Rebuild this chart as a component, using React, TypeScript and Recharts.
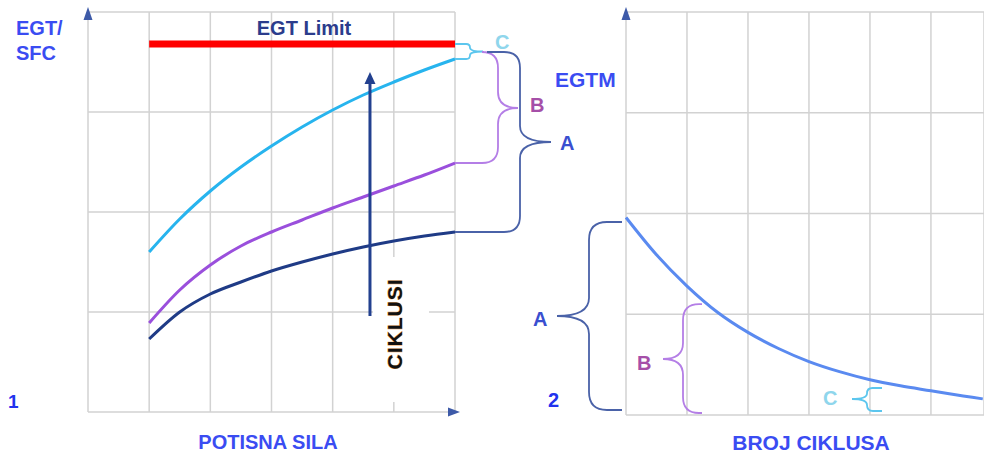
import { LineChart, Line, XAxis, YAxis, CartesianGrid, ReferenceLine } from 'recharts';

// left panel: EGT/SFC vs thrust, x in grid units
const thrust = [1, 1.5, 2, 2.5, 3, 3.5, 4, 4.5, 5, 5.5, 6];
const egtLimit = [3.68, 3.68, 3.68, 3.68, 3.68, 3.68, 3.68, 3.68, 3.68, 3.68, 3.68];
const newEngine = [0.73, 1.0, 1.18, 1.3, 1.41, 1.5, 1.58, 1.65, 1.71, 1.76, 1.8];
const midLife = [0.89, 1.22, 1.47, 1.66, 1.8, 1.92, 2.04, 2.15, 2.26, 2.37, 2.49];
const oldEngine = [1.6, 1.93, 2.21, 2.45, 2.66, 2.85, 3.02, 3.17, 3.3, 3.42, 3.53];

// right panel: EGT margin vs cycles
const cycles = [0, 0.5, 1, 1.5, 2, 2.5, 3, 3.5, 4, 4.5, 5, 5.3, 5.85];
const egtm = [1.96, 1.59, 1.28, 1.02, 0.82, 0.66, 0.53, 0.43, 0.35, 0.29, 0.24, 0.21, 0.16];

const leftTicksX = [0, 1, 2, 3, 4, 5, 6];
const rightTicksX = [0, 1, 2, 3, 4, 5];
const ticksY = [0, 1, 2, 3, 4];

const leftData = thrust.map((x, i) => ({
  x,
  limit: egtLimit[i],
  a: newEngine[i],
  b: midLife[i],
  c: oldEngine[i],
}));
const rightData = cycles.map((x, i) => ({ x, egtm: egtm[i] }));

const FONT = '"Liberation Sans", Arial, sans-serif';
const AXIS = '#3d5aa8';
const GRID = '#d2d2d2';
const LABEL = '#3a4cf2';
const hiddenTick = { fill: 'transparent', fontSize: 1 };

// pixel helpers matching the chart margins below (annotations only)
const lx = (v: number) => 88 + (v / 6) * 367;
const ly = (v: number) => 12 + (1 - v / 4) * 400;
const ry = (v: number) => 12 + (1 - v / 4) * 403;

// curly brace: ends at (x0a,y1) and (x0b,y2), spine at xs, tip at (xt,yt)
function brace(x0a: number, y1: number, x0b: number, y2: number, xs: number, xt: number, yt: number, r: number) {
  const d = Math.sign(xs - x0a) || 1;
  const r1 = Math.min(r, (yt - y1) / 2);
  const r2 = Math.min(r, (y2 - yt) / 2);
  return [
    `M${x0a},${y1}`,
    `L${xs - d * r1},${y1}`,
    `Q${xs},${y1} ${xs},${y1 + r1}`,
    `L${xs},${yt - r1}`,
    `Q${xs},${yt} ${xt},${yt}`,
    `Q${xs},${yt} ${xs},${yt + r2}`,
    `L${xs},${y2 - r2}`,
    `Q${xs},${y2} ${xs - d * r2},${y2}`,
    `L${x0b},${y2}`,
  ].join(' ');
}

export default function App() {
  const arrowX = 4.61;
  return (
    <div style={{ position: 'absolute', left: 0, top: 0, width: 984, height: 454, background: '#fff', overflow: 'hidden', fontFamily: FONT }}>
      <div style={{ position: 'absolute', left: 0, top: 0 }}>
        <LineChart width={500} height={454} data={leftData} margin={{ top: 12, right: 45, bottom: 42, left: 88 }}>
          <CartesianGrid stroke={GRID} strokeWidth={1.5} />
          <XAxis dataKey="x" type="number" domain={[0, 6]} ticks={leftTicksX} height={0} tick={hiddenTick} tickLine={false} axisLine={{ stroke: AXIS, strokeWidth: 2 }} />
          <YAxis type="number" domain={[0, 4]} ticks={ticksY} width={0} tick={hiddenTick} tickLine={false} axisLine={{ stroke: AXIS, strokeWidth: 2 }} />
          <Line dataKey="limit" stroke="#ff0000" strokeWidth={7} dot={false} isAnimationActive={false} strokeLinecap="butt" />
          <Line type="monotone" dataKey="c" stroke="#27b4ee" strokeWidth={3} dot={false} isAnimationActive={false} />
          <Line type="monotone" dataKey="b" stroke="#9a4fdc" strokeWidth={3} dot={false} isAnimationActive={false} />
          <Line type="monotone" dataKey="a" stroke="#1f3b86" strokeWidth={3} dot={false} isAnimationActive={false} />
          <ReferenceLine segment={[{ x: arrowX, y: 0.96 }, { x: arrowX, y: 3.3 }]} stroke="#22408f" strokeWidth={3} />
        </LineChart>
      </div>
      <div style={{ position: 'absolute', left: 500, top: 0 }}>
        <LineChart width={484} height={454} data={rightData} margin={{ top: 12, right: 0, bottom: 39, left: 126 }}>
          <CartesianGrid stroke={GRID} strokeWidth={1.5} />
          <XAxis dataKey="x" type="number" domain={[0, 5.87]} ticks={rightTicksX} height={0} tick={hiddenTick} tickLine={false} axisLine={{ stroke: AXIS, strokeWidth: 2 }} />
          <YAxis type="number" domain={[0, 4]} ticks={ticksY} width={0} tick={hiddenTick} tickLine={false} axisLine={{ stroke: AXIS, strokeWidth: 2 }} />
          <Line type="monotone" dataKey="egtm" stroke="#5a8af0" strokeWidth={3} dot={false} isAnimationActive={false} />
        </LineChart>
      </div>
      <svg width={984} height={454} style={{ position: 'absolute', left: 0, top: 0, pointerEvents: 'none' }}>
        {/* axis arrowheads */}
        <polygon points="88,7 83.5,20 92.5,20" fill={AXIS} />
        <polygon points="460,412 448,407.5 448,416.5" fill={AXIS} />
        <polygon points="626,7 621.5,20 630.5,20" fill={AXIS} />
        {/* cycles arrow head */}
        <polygon points={`${lx(arrowX)},${ly(3.4)} ${lx(arrowX) - 5.5},${ly(3.4) + 12} ${lx(arrowX) + 5.5},${ly(3.4) + 12}`} fill="#22408f" />

        {/* white box behind CIKLUSI */}
        <rect x={373} y={257} width={56} height={145} fill="#fff" />
        <text
          transform="translate(402,324) rotate(-90)"
          textAnchor="middle"
          fontFamily={FONT}
          fontWeight="bold"
          fontSize={21}
          letterSpacing={1}
          fill="#111"
          stroke="#f0a048"
          strokeWidth={0.7}
          paintOrder="stroke"
        >
          CIKLUSI
        </text>

        {/* left braces */}
        <path d={brace(lx(6), ly(3.68), lx(6), ly(3.53), 470, 483, 51.5, 7)} fill="none" stroke="#5cc6ee" strokeWidth={1.8} />
        <path d={brace(484, 52, lx(6), ly(2.49), 498, 518, 108, 16)} fill="none" stroke="#b47ee6" strokeWidth={1.8} />
        <path d={brace(487, 52, lx(6), ly(1.8), 520, 551, 142, 16)} fill="none" stroke="#4a62a8" strokeWidth={1.8} />

        {/* right braces */}
        <path d={brace(622, 222, 622, 410, 589, 557, 316, 18)} fill="none" stroke="#4a62a8" strokeWidth={1.8} />
        <path d={brace(702, ry(1.1), 702, 413, 683, 663, 359, 16)} fill="none" stroke="#b47ee6" strokeWidth={1.8} />
        <path d={brace(882, 388, 882, 411, 867, 852, 399, 8)} fill="none" stroke="#5cc6ee" strokeWidth={1.8} />

        <g fontFamily={FONT} fontWeight="bold">
          <text x={16} y={35} fontSize={20} fill={LABEL}>EGT/</text>
          <text x={16} y={60} fontSize={20} fill={LABEL}>SFC</text>
          <text x={8} y={408} fontSize={19} fill="#2233ee">1</text>
          <text x={304} y={35} fontSize={20} fill="#2b3c8c" textAnchor="middle">EGT Limit</text>
          <text x={268} y={449} fontSize={20} fill={LABEL} textAnchor="middle">POTISNA SILA</text>
          <text x={495} y={49} fontSize={20} fill="#8fd6ec">C</text>
          <text x={530} y={112} fontSize={20} fill="#a54fa8">B</text>
          <text x={560} y={150} fontSize={20} fill="#3a4fd0">A</text>

          <text x={555} y={87} fontSize={21} fill={LABEL}>EGTM</text>
          <text x={548} y={407} fontSize={20} fill="#2233ee">2</text>
          <text x={811} y={450} fontSize={21} fill={LABEL} textAnchor="middle">BROJ CIKLUSA</text>
          <text x={533} y={326} fontSize={20} fill="#3a4fd0">A</text>
          <text x={637} y={370} fontSize={20} fill="#a54fa8">B</text>
          <text x={823} y={405} fontSize={20} fill="#8fd6ec">C</text>
        </g>
      </svg>
    </div>
  );
}
